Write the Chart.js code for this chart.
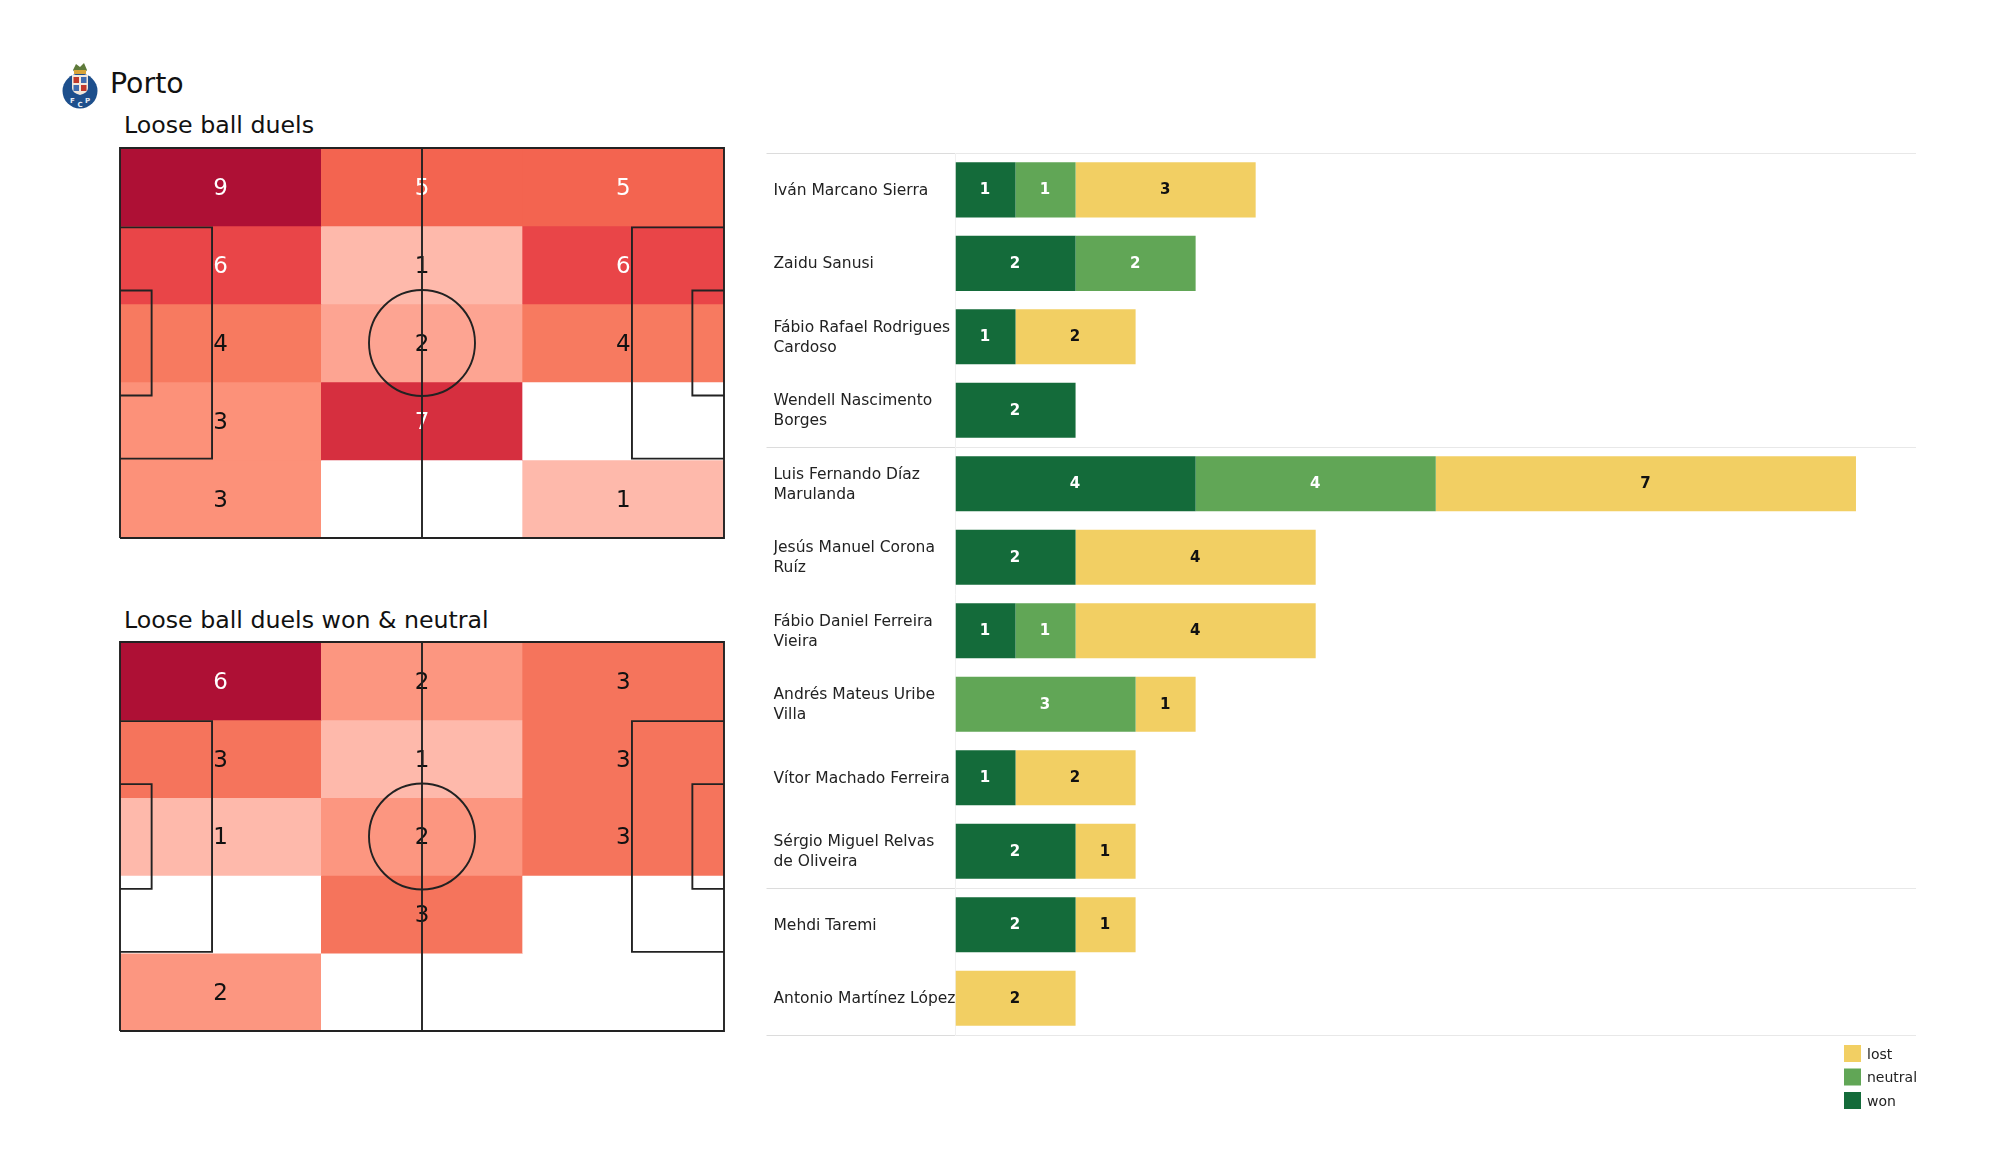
<!DOCTYPE html>
<html>
<head>
<meta charset="utf-8">
<title>Porto loose ball duels</title>
<script src="https://cdn.jsdelivr.net/npm/chart.js@4"></script>
<style>
  html, body { margin: 0; background: #fff; width: 2000px; height: 1175px; overflow: hidden; }
  body { font-family: "DejaVu Sans", sans-serif; color: #111; position: relative; }
  canvas { position: absolute; }
  .txt { position: absolute; white-space: nowrap; line-height: 1; }
  #crest { position: absolute; left: 62px; top: 62px; }
</style>
</head>
<body>
<svg id="crest" width="38" height="48" viewBox="0 0 38 48">
  <circle cx="18" cy="29" r="17.5" fill="#1d4f8c"/>
  <path d="M11 8 L14 2 L18 5 L22 1 L25 8 L23 11 L13 11 Z" fill="#5e7a3a"/>
  <rect x="12" y="8" width="12" height="4" fill="#d9a53a"/>
  <path d="M10 13 H26 V26 Q26 31 18 33 Q10 31 10 26 Z" fill="#f2e8dc"/>
  <rect x="11.5" y="15" width="5.5" height="6" fill="#c0392b"/>
  <rect x="19" y="15" width="5.5" height="6" fill="#3f6db0"/>
  <rect x="11.5" y="23" width="5.5" height="6" fill="#3f6db0"/>
  <rect x="19" y="23" width="5.5" height="6" fill="#c0392b"/>
  <text x="8" y="41" font-size="7" font-weight="bold" fill="#e8eef5" font-family="DejaVu Sans">F</text>
  <text x="15.5" y="45" font-size="7" font-weight="bold" fill="#e8eef5" font-family="DejaVu Sans">C</text>
  <text x="23" y="41" font-size="7" font-weight="bold" fill="#e8eef5" font-family="DejaVu Sans">P</text>
</svg>
<div class="txt" style="left:110px;top:70px;font-size:28.4px">Porto</div>
<div class="txt" style="left:124px;top:114px;font-size:23.7px">Loose ball duels</div>
<div class="txt" style="left:124px;top:609px;font-size:23.7px">Loose ball duels won &amp; neutral</div>

<canvas id="pitchAll" width="626" height="412" style="left:109px;top:137px"></canvas>
<canvas id="pitchWon" width="626" height="411" style="left:109px;top:631px"></canvas>
<canvas id="players" width="1240" height="1035" style="left:760px;top:140px"></canvas>

<script>
// heatmap counts, top row first
var duelsAll = [
  [9, 5, 5],
  [6, 1, 6],
  [4, 2, 4],
  [3, 7, 0],
  [3, 0, 1]
];
var duelsWon = [
  [6, 2, 3],
  [3, 1, 3],
  [1, 2, 3],
  [0, 3, 0],
  [2, 0, 0]
];
var zones = ['left', 'middle', 'right'];

var players = [
  ['Iván Marcano Sierra'],
  ['Zaidu Sanusi'],
  ['Fábio Rafael Rodrigues', 'Cardoso'],
  ['Wendell Nascimento', 'Borges'],
  ['Luis Fernando Díaz', 'Marulanda'],
  ['Jesús Manuel Corona', 'Ruíz'],
  ['Fábio Daniel Ferreira', 'Vieira'],
  ['Andrés Mateus Uribe', 'Villa'],
  ['Vítor Machado Ferreira'],
  ['Sérgio Miguel Relvas', 'de Oliveira'],
  ['Mehdi Taremi'],
  ['Antonio Martínez López']
];
var won     = [1, 2, 1, 2, 4, 2, 1, 0, 1, 2, 2, 0];
var neutral = [1, 2, 0, 0, 4, 0, 1, 3, 0, 0, 0, 0];
var lost    = [3, 0, 2, 0, 7, 4, 4, 1, 2, 1, 1, 2];
var groupStarts = [0, 4, 10];

// pitch markings in metres
var pitchFrame = [[0, 0], [105, 0], [105, 68], [0, 68], [0, 0]];
var halfway = [[52.5, 0], [52.5, 68]];
var boxLeft = [[0, 13.84], [16, 13.84], [16, 54.16], [0, 54.16]];
var boxRight = [[105, 13.84], [89, 13.84], [89, 54.16], [105, 54.16]];
var sixLeft = [[0, 24.84], [5.5, 24.84], [5.5, 43.16], [0, 43.16]];
var sixRight = [[105, 24.84], [99.5, 24.84], [99.5, 43.16], [105, 43.16]];
var centreSpot = [[52.5, 34]];

var colAll = { 0: '#ffffff', 1: '#feb9ab', 2: '#fda492', 3: '#fc9179', 4: '#f77a60', 5: '#f36450', 6: '#e94548', 7: '#d62f3f', 9: '#ae1035' };
var colWon = { 0: '#ffffff', 1: '#feb9ab', 2: '#fc9680', 3: '#f5745c', 6: '#ae1035' };
var whiteAll = [5, 6, 7, 9];
var whiteWon = [6];
var lineCol = '#222222';
var font = '"DejaVu Sans", sans-serif';

function xy(list) {
  return list.map(function (p) { return { x: p[0], y: p[1] }; });
}

function lineSet(list) {
  return {
    type: 'scatter', data: xy(list), xAxisID: 'mx', yAxisID: 'my', order: 1, clip: false,
    showLine: true, pointRadius: 0, borderColor: lineCol, borderWidth: 1.9, tension: 0
  };
}

// numbers in the cells, drawn once the last row of bars is down
var cellText = {
  id: 'cellText',
  afterDatasetDraw: function (chart, args, opts) {
    if (args.index !== 0) return;
    var ctx = chart.ctx;
    ctx.save();
    ctx.font = '23px ' + font;
    ctx.textAlign = 'center';
    ctx.textBaseline = 'middle';
    opts.counts.forEach(function (row, r) {
      row.forEach(function (v, c) {
        if (!v) return;
        ctx.fillStyle = opts.white.indexOf(v) >= 0 ? '#ffffff' : '#111111';
        ctx.fillText(v, chart.scales.x.getPixelForValue(c), chart.scales.y.getPixelForValue(r + 0.5) + 2);
      });
    });
    ctx.restore();
  }
};

function pitchChart(id, counts, cols, white) {
  var sets = counts.map(function (row, r) {
    return {
      type: 'bar', order: 2, xAxisID: 'x', yAxisID: 'y',
      data: row.map(function () { return [r, r + 1]; }),
      backgroundColor: row.map(function (v) { return cols[v]; }),
      barPercentage: 1, categoryPercentage: 1, grouped: false
    };
  });
  [pitchFrame, halfway, boxLeft, boxRight, sixLeft, sixRight].forEach(function (l) {
    sets.push(lineSet(l));
  });
  var ring = lineSet(centreSpot);
  ring.pointRadius = 53;
  ring.pointBackgroundColor = 'rgba(0,0,0,0)';
  ring.pointBorderColor = lineCol;
  ring.pointBorderWidth = 1.9;
  ring.pointHoverRadius = 53;
  sets.push(ring);

  return new Chart(document.getElementById(id), {
    type: 'bar',
    data: { labels: zones, datasets: sets },
    plugins: [cellText],
    options: {
      responsive: false,
      animation: false,
      layout: { padding: 11, autoPadding: false },
      plugins: {
        legend: { display: false },
        tooltip: { enabled: false },
        cellText: { counts: counts, white: white }
      },
      scales: {
        x: { type: 'category', display: false },
        y: { type: 'linear', display: false, min: 0, max: 5, reverse: true, offset: false },
        mx: { type: 'linear', axis: 'x', position: 'bottom', display: false, min: 0, max: 105, offset: false },
        my: { type: 'linear', axis: 'y', position: 'left', display: false, min: 0, max: 68, offset: false }
      }
    }
  });
}

pitchChart('pitchAll', duelsAll, colAll, whiteAll);
pitchChart('pitchWon', duelsWon, colWon, whiteWon);

// value in the middle of each bar piece
var barText = {
  id: 'barText',
  afterDatasetsDraw: function (chart) {
    var ctx = chart.ctx;
    ctx.save();
    ctx.font = 'bold 15px ' + font;
    ctx.textAlign = 'center';
    ctx.textBaseline = 'middle';
    chart.data.datasets.forEach(function (ds, i) {
      chart.getDatasetMeta(i).data.forEach(function (bar, j) {
        if (!ds.data[j]) return;
        var p = bar.getCenterPoint();
        ctx.fillStyle = ds.textColor;
        ctx.fillText(ds.data[j], p.x - 0.5, p.y + 0.5);
      });
    });
    ctx.restore();
  }
};

// small legend under the bars, lost on top
var sideLegend = {
  id: 'sideLegend',
  afterDraw: function (chart) {
    var ctx = chart.ctx;
    ctx.save();
    ctx.font = '14px ' + font;
    ctx.textBaseline = 'middle';
    chart.data.datasets.slice().reverse().forEach(function (ds, i) {
      var y = 905 + i * 23.5;
      ctx.fillStyle = ds.backgroundColor;
      ctx.fillRect(1084, y, 17, 17);
      ctx.fillStyle = '#222222';
      ctx.fillText(ds.label, 1107, y + 10);
    });
    ctx.restore();
  }
};

new Chart(document.getElementById('players'), {
  type: 'bar',
  data: {
    labels: players,
    datasets: [
      { label: 'won', data: won, backgroundColor: '#146b3a', textColor: '#ffffff' },
      { label: 'neutral', data: neutral, backgroundColor: '#61a656', textColor: '#ffffff' },
      { label: 'lost', data: lost, backgroundColor: '#f2cf63', textColor: '#111111' }
    ]
  },
  plugins: [barText, sideLegend],
  options: {
    indexAxis: 'y',
    responsive: false,
    animation: false,
    layout: { padding: { left: 13.5, top: 11, right: 84, bottom: 140 } },
    datasets: { bar: { barPercentage: 0.75, categoryPercentage: 1 } },
    plugins: { legend: { display: false }, tooltip: { enabled: false } },
    scales: {
      x: { stacked: true, display: false, min: 0, max: 16 },
      y: {
        stacked: true,
        afterFit: function (axis) { axis.width = 182; },
        border: { color: '#f0f0f0' },
        grid: {
          offset: true,
          tickLength: 189,
          color: function (c) {
            return c.index === undefined || groupStarts.indexOf(c.index) >= 0 ? '#e8e8e8' : 'rgba(0,0,0,0)';
          },
          tickColor: function (c) {
            return c.index === undefined || groupStarts.indexOf(c.index) >= 0 ? '#dcdcdc' : 'rgba(0,0,0,0)';
          }
        },
        ticks: {
          autoSkip: false,
          crossAlign: 'far',
          labelOffset: 1,
          color: '#222222',
          font: { family: font, size: 15.5, lineHeight: 1.3 }
        }
      }
    }
  }
});
</script>
</body>
</html>
